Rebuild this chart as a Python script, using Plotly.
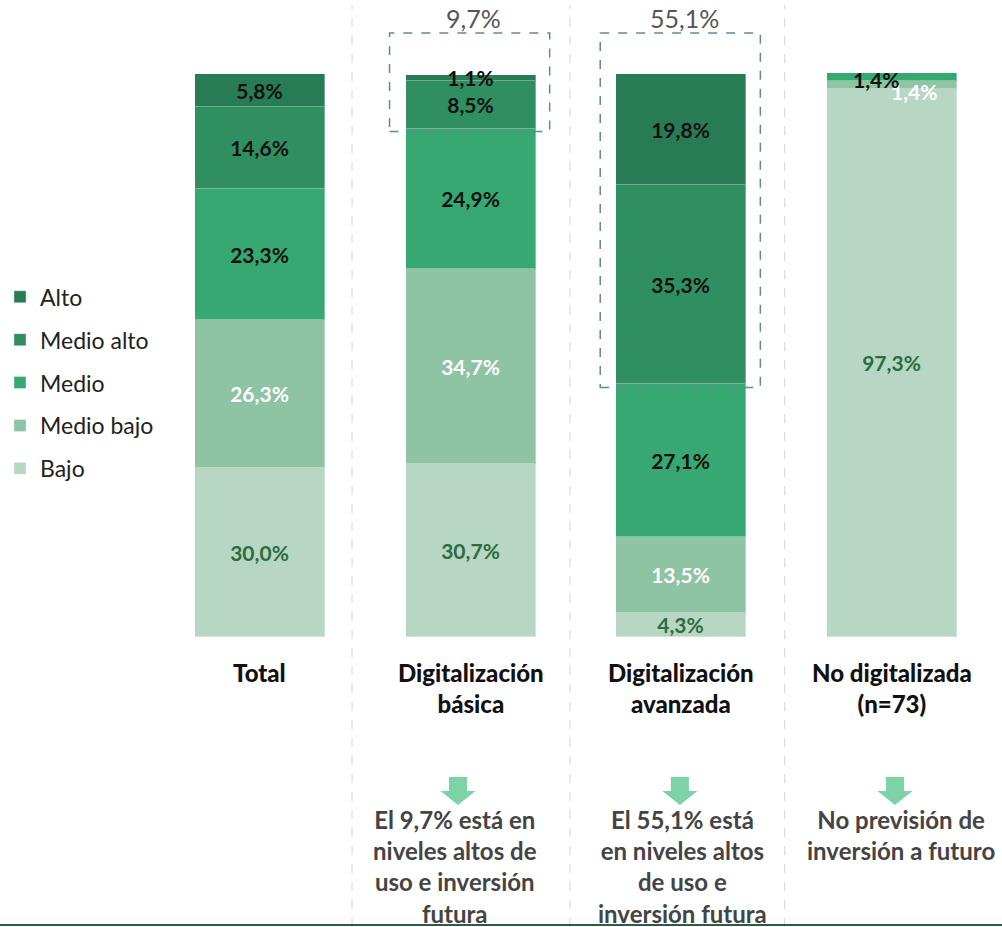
import plotly.graph_objects as go

categories = ["Total", "Digitalización<br>básica", "Digitalización<br>avanzada", "No digitalizada<br>(n=73)"]
series_names = ["Bajo", "Medio bajo", "Medio", "Medio alto", "Alto"]
bajo = [30.0, 30.7, 4.3, 97.3]
medio_bajo = [26.3, 34.7, 13.5, 1.4]
medio = [23.3, 24.9, 27.1, 1.4]
medio_alto = [14.6, 8.5, 35.3, 0.0]
alto = [5.8, 1.1, 19.8, 0.0]
series_values = [bajo, medio_bajo, medio, medio_alto, alto]
colors = ["#b8d6c4", "#8ec4a3", "#37a872", "#2f8f61", "#287c55"]
label_colors = ["#2a6e40", "#ffffff", "#111111", "#111111", "#111111"]
highlight_totals = ["", "9,7%", "55,1%", ""]
bottom_notes = ["", "El 9,7% está en<br>niveles altos de<br>uso e inversión<br>futura",
                "El 55,1% está<br>en niveles altos<br>de uso e<br>inversión futura",
                "No previsión de<br>inversión a futuro"]

FONT = "Lato, 'Open Sans', sans-serif"
PX = 5.63  # pixels per percentage point (vertical)

def fmt(v):
    return ("%.1f%%" % v).replace(".", ",")

xs = list(range(len(categories)))
fig = go.Figure()
n = len(series_names)
for i, (name, vals) in enumerate(zip(series_names, series_values)):
    texts = []
    for j, v in enumerate(vals):
        if v == 0 or (j == 3 and name in ("Medio", "Medio bajo")):
            texts.append("")
        else:
            texts.append(fmt(v))
    fig.add_trace(go.Bar(
        x=xs, y=vals, name=name, text=texts, texttemplate="%{text}",
        textposition="inside", insidetextanchor="middle", textangle=0,
        constraintext="none",
        textfont=dict(family=FONT, size=21, color=label_colors[i], weight="bold"),
        marker=dict(color=colors[i], line=dict(color="rgba(255,255,255,0.35)", width=1)),
        width=0.617, legendgroup=name, legendrank=n - i, hoverinfo="skip",
    ))

# Labels for the thin strips of "No digitalizada"
cum = 0
for i, vals in enumerate(series_values):
    v = vals[3]
    if series_names[i] == "Medio":
        fig.add_annotation(x=3, y=cum + v / 2, text=fmt(v), showarrow=False, xshift=-16, yshift=-2,
                           font=dict(family=FONT, size=21, color="#111111", weight="bold"))
    if series_names[i] == "Medio bajo":
        fig.add_annotation(x=3, y=cum + v / 2, text=fmt(v), showarrow=False, xshift=22, yshift=-6,
                           font=dict(family=FONT, size=21, color="#ffffff", weight="bold"))
    cum += v

# Category labels
for j, c in enumerate(categories):
    fig.add_annotation(x=j, y=-3.3, text=c, showarrow=False, yanchor="top",
                       font=dict(family=FONT, size=24, color="#111111", weight=900))

# Highlight boxes and totals
for j, t in enumerate(highlight_totals):
    if not t:
        continue
    high = alto[j] + medio_alto[j]
    fig.add_shape(type="rect", x0=j - 0.385, x1=j + 0.375, y0=100 - high - 0.6, y1=107.3,
                  line=dict(color="#5f8c90", width=1.5, dash="dash"), fillcolor="rgba(0,0,0,0)")
    fig.add_annotation(x=j, y=100 + (74 - 18) / PX, text=t, showarrow=False, yanchor="middle",
                       xshift=3, font=dict(family=FONT, size=25, color="#555555"))

# Bottom notes with arrows
arrow_x = [0, 0.94, 1.993, 3.014]
note_x = [0, 0.926, 2.004, 3.044]
for j, note in enumerate(bottom_notes):
    if not note:
        continue
    xc = arrow_x[j]
    sw = 9 / 210.7
    hw = 17.5 / 210.7
    y_top = -(777 - 637) / PX
    y_mid = -(791 - 637) / PX
    y_tip = -(805 - 637) / PX
    path = (f"M {xc - sw} {y_top} L {xc + sw} {y_top} L {xc + sw} {y_mid} L {xc + hw} {y_mid} "
            f"L {xc} {y_tip} L {xc - hw} {y_mid} L {xc - sw} {y_mid} Z")
    fig.add_shape(type="path", path=path, fillcolor="#7dd3a5", line=dict(width=0))
    fig.add_annotation(x=note_x[j], y=-(803 - 637) / PX, text=note, showarrow=False,
                       yanchor="top", font=dict(family=FONT, size=24, color="#444444", weight="bold"))

# Vertical separators
for xsep in [0.437, 1.471, 2.49]:
    fig.add_shape(type="line", x0=xsep, x1=xsep, y0=-51.5, y1=113.14 - 5 / PX,
                  line=dict(color="#d9dcdc", width=1.2, dash="dash"))

# Bottom border
fig.add_shape(type="line", x0=-1.234, x1=3.522, y0=-51.5 + 2 / PX, y1=-51.5 + 2 / PX,
              line=dict(color="#2f5a45", width=2))

fig.update_layout(
    width=1002, height=927, barmode="stack",
    margin=dict(l=0, r=0, t=0, b=0),
    plot_bgcolor="white", paper_bgcolor="white",
    font=dict(family=FONT),
    xaxis=dict(range=[-1.234, 3.522], visible=False, fixedrange=True),
    yaxis=dict(range=[-51.5, 113.14], visible=False, fixedrange=True),
    showlegend=True,
    legend=dict(x=0, y=0.703, xanchor="left", yanchor="top", traceorder="grouped",
                tracegroupgap=10, font=dict(family=FONT, size=23, color="#222222"),
                bgcolor="rgba(0,0,0,0)", itemwidth=30),
    bargap=0,
)

fig.write_html("out.html", config={"displayModeBar": False},
               post_script="document.body.style.margin='0';document.body.style.overflow='hidden';")
